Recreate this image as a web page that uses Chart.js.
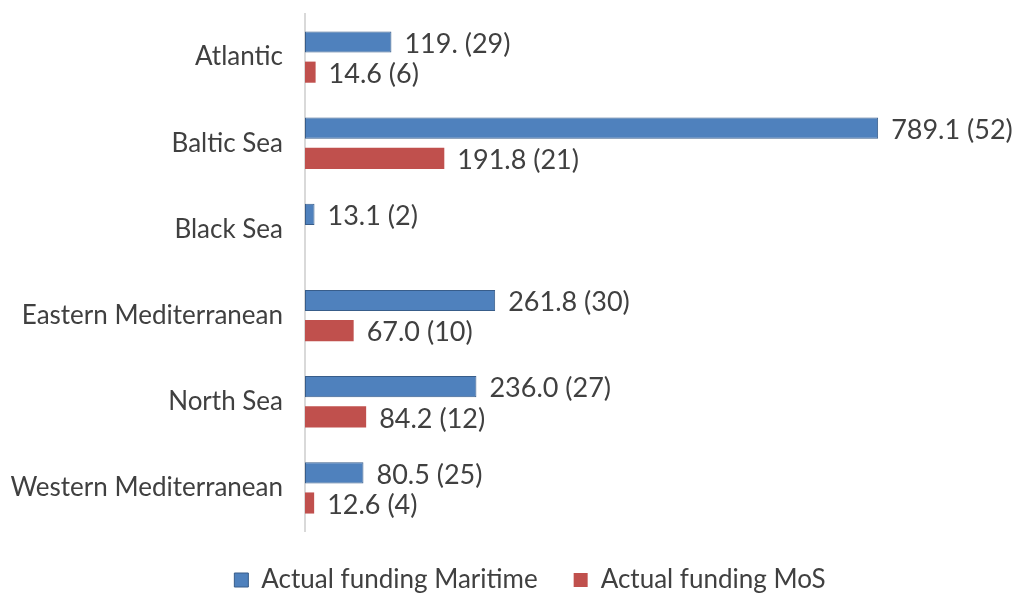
<!DOCTYPE html>
<html>
<head>
<meta charset="utf-8">
<script src="https://cdn.jsdelivr.net/npm/chart.js@4"></script>
<style>
  html, body { margin: 0; padding: 0; background: #fff; }
  #wrap { width: 1016px; height: 594px; }
</style>
</head>
<body>
<div id="wrap"><canvas id="fundingChart"></canvas></div>
<script>
var categories = ['Atlantic', 'Baltic Sea', 'Black Sea', 'Eastern Mediterranean', 'North Sea', 'Western Mediterranean'];
var maritimeValues = [119.0, 789.1, 13.1, 261.8, 236.0, 80.5];
var maritimeCounts = [29, 52, 2, 30, 27, 25];
var maritimeText = ['119.', '789.1', '13.1', '261.8', '236.0', '80.5'];
var mosValues = [14.6, 191.8, null, 67.0, 84.2, 12.6];
var mosCounts = [6, 21, null, 10, 12, 4];
var mosText = ['14.6', '191.8', null, '67.0', '84.2', '12.6'];

var fontFamily = 'Lato, "Open Sans", sans-serif';
var textColor = '#404040';

// labels "value (count)" at the end of each bar
var barLabels = {
    id: 'barLabels',
    afterLayout: function (chart) {
        // let the long category names run into the left padding without clipping
        chart.scales.y.left = 0;
    },
    afterDatasetsDraw: function (chart) {
        var ctx = chart.ctx;
        var texts = [maritimeText, mosText];
        var counts = [maritimeCounts, mosCounts];
        ctx.save();
        ctx.font = '27px ' + fontFamily;
        ctx.fillStyle = textColor;
        ctx.textAlign = 'left';
        ctx.textBaseline = 'middle';
        chart.data.datasets.forEach(function (ds, di) {
            chart.getDatasetMeta(di).data.forEach(function (bar, i) {
                if (ds.data[i] == null) return;
                ctx.fillText(texts[di][i] + ' (' + counts[di][i] + ')', bar.x + 13, bar.y + 2);
            });
        });
        ctx.restore();
    }
};

var ctx = document.getElementById('fundingChart').getContext('2d');
var fundingChart = new Chart(ctx, {
    type: 'bar',
    data: {
        labels: categories,
        datasets: [{
            label: 'Actual funding Maritime',
            data: maritimeValues,
            backgroundColor: '#4f81bd',
            borderColor: '#385d8a',
            borderWidth: 1,
            borderSkipped: false,
            categoryPercentage: 0.7,
            barPercentage: 0.7
        }, {
            label: 'Actual funding MoS',
            data: mosValues,
            backgroundColor: '#c0504d',
            borderColor: '#c0504d',
            borderWidth: 0,
            categoryPercentage: 0.7,
            barPercentage: 0.7
        }]
    },
    options: {
        indexAxis: 'y',
        responsive: true,
        maintainAspectRatio: false,
        animation: false,
        layout: { padding: { top: 14, right: 21, bottom: -9, left: 65 } },
        scales: {
            x: {
                display: false,
                min: 0,
                max: 950
            },
            y: {
                grid: { display: false, drawTicks: false },
                border: { display: true, color: '#d9d9d9', width: 2 },
                ticks: {
                    color: textColor,
                    padding: 22,
                    font: { family: fontFamily, size: 26 }
                },
                afterFit: function (scale) {
                    scale.width = 240;
                    scale.paddingTop = 0;
                    scale.paddingBottom = 0;
                }
            }
        },
        plugins: {
            tooltip: { enabled: false },
            legend: {
                position: 'bottom',
                labels: {
                    boxWidth: 14,
                    boxHeight: 14,
                    padding: 36,
                    color: textColor,
                    font: { family: fontFamily, size: 26 }
                }
            }
        }
    },
    plugins: [barLabels]
});
</script>
</body>
</html>
